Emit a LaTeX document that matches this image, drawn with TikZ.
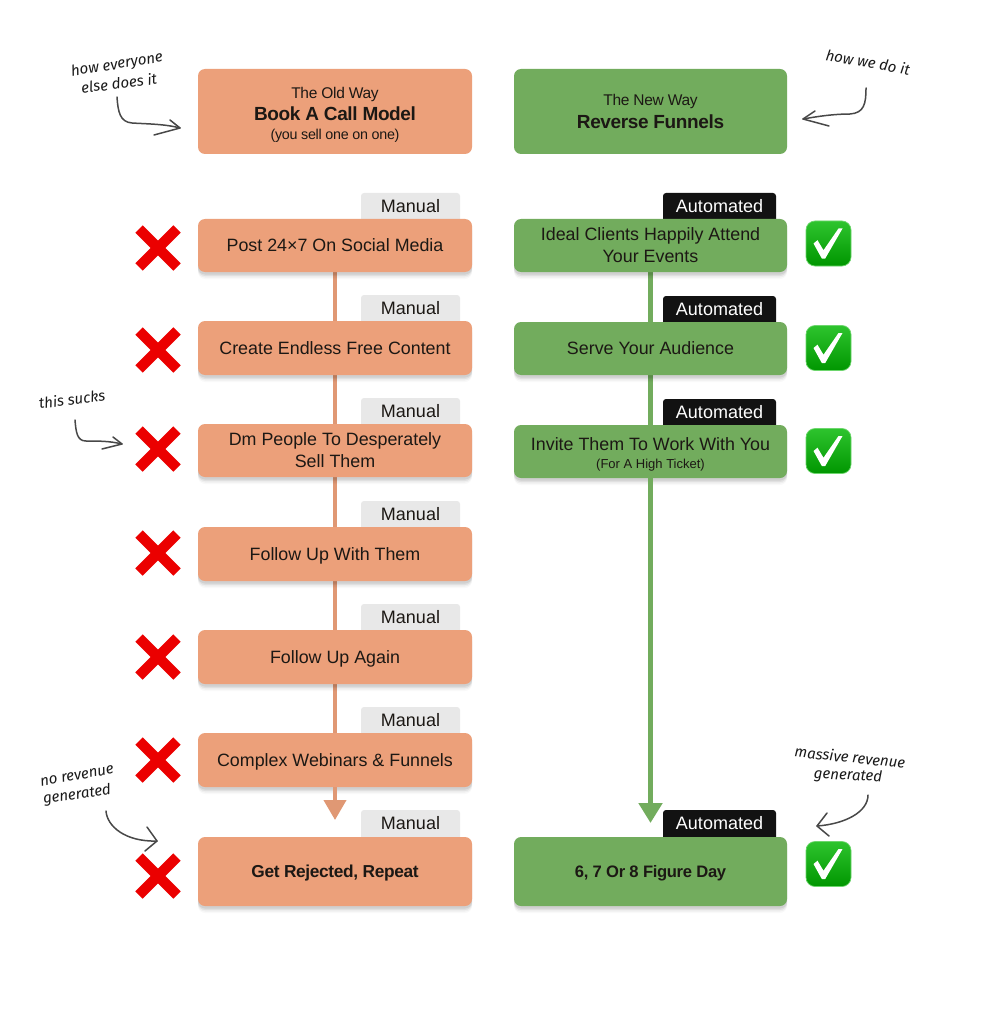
\documentclass[tikz,border=0pt]{standalone}
\usepackage{fontspec}
\setmainfont{Liberation Sans}
\newfontfamily\tight[LetterSpace=-2.0]{Liberation Sans}
\newfontfamily\hand{Fira Sans}
\usetikzlibrary{arrows.meta,calc}
\pgfdeclarelayer{bg}
\pgfsetlayers{bg,main}
\definecolor{oldc}{RGB}{236,160,122}
\definecolor{newc}{RGB}{114,172,93}
\definecolor{ink}{RGB}{28,24,20}
\definecolor{scribble}{RGB}{72,72,72}
\definecolor{ticktop}{RGB}{46,196,46}
\definecolor{tickbot}{RGB}{0,150,0}
\newcommand{\dn}[1]{\raisebox{-6.3pt}[5pt][5pt]{#1}}
\tikzset{
  softshadow/.style={
    preaction={fill=black,opacity=.025,transform canvas={yshift=-7pt}},
    preaction={fill=black,opacity=.04,transform canvas={yshift=-5.5pt}},
    preaction={fill=black,opacity=.06,transform canvas={yshift=-4pt}},
    preaction={fill=black,opacity=.07,transform canvas={yshift=-2.5pt}}},
  flatbox/.style={rounded corners=7pt,inner sep=0pt,minimum width=274pt,text=ink,align=center},
  oldbox/.style={flatbox,fill=oldc},
  newbox/.style={flatbox,fill=newc,minimum width=273pt},
  oldstep/.style={oldbox,softshadow},
  newstep/.style={newbox,softshadow},
  steptext/.style={font=\fontsize{17.85}{21.8}\selectfont},
  heavytext/.style={font=\tight\fontsize{17.3}{21}\selectfont\bfseries},
  tagbase/.style={rounded corners=3pt,inner sep=0pt,minimum height=33pt,font=\fontsize{18}{20}\selectfont},
  manualtag/.style={tagbase,fill=black!9,text=ink,minimum width=99pt},
  autotag/.style={tagbase,fill=black!93,text=white,minimum width=113pt},
  oldline/.style={draw=oldc!95!black,line width=4pt},
  newline/.style={draw=newc,line width=5pt},
  handnote/.style={font=\hand\itshape\fontsize{15}{18}\selectfont,text=black!90,inner sep=0pt},
  scrib/.style={draw=scribble,line width=1.5pt,line cap=round,line join=round},
  crossmark/.style={inner sep=0pt,minimum size=45pt},
  tickmark/.style={inner sep=0pt,minimum size=45pt,rounded corners=9pt,draw=ticktop!70!white,line width=.7pt,
     top color=ticktop,bottom color=tickbot},
}
\newcommand{\crossat}[3]{%
  \node[crossmark] (#1) at (#2,#3) {};
  \draw[line width=10.5pt,draw=red!92!black] (#2-19,#3-19) -- (#2+19,#3+19);
  \draw[line width=10.5pt,draw=red!92!black] (#2-19,#3+19) -- (#2+19,#3-19);
}
\newcommand{\tickat}[3]{%
  \node[tickmark] (#1) at (#2,#3) {};
  \fill[white,shift={(#2,#3)}] (-15,0) -- (-11,3.3) -- (-5,-6.7) -- (10,15) -- (14,15) -- (-3.3,-15) -- (-6.7,-15) -- cycle;
}
\begin{document}
\begin{tikzpicture}[x=1pt,y=1pt]
\useasboundingbox (0,0) rectangle (987,-1024);
\begin{pgfonlayer}{bg}
\fill[white] (0,0) rectangle (987,-1024);
\end{pgfonlayer}

% tags sit behind the boxes
\foreach \n/\yy in {1/209.5,2/311.5,3/414.5,4/517.5,5/620.5,6/723.5,7/826.5}{
  \node[manualtag] (m\n) at (410.5,-\yy) {\raisebox{6.5pt}{Manual}};
}
\foreach \n/\yy in {1/209.5,2/312.5,3/415.5,7/826.5}{
  \node[autotag] (a\n) at (719.5,-\yy) {\raisebox{6.5pt}{Automated}};
}

% headers
\node[oldbox,minimum height=85pt] (oldhead) at (335,-111.5) {%
  {\rule{0pt}{17pt}\tight\fontsize{15.5}{18}\selectfont The Old Way}\\[4pt]
  {\tight\fontsize{19}{22}\selectfont\bfseries Book A Call Model}\\[7pt]
  {\tight\fontsize{14.3}{18}\selectfont (you sell one on one)}};
\node[newbox,minimum height=85pt] (newhead) at (650.5,-111.5) {%
  {\tight\fontsize{15.5}{18}\selectfont The New Way}\\[5pt]
  {\tight\fontsize{19}{22}\selectfont\bfseries Reverse Funnels}};

% old way
\node[oldstep,steptext,minimum height=53pt] (o1) at (335,-245.5) {\dn{Post 24×7 On Social Media}};
\node[oldstep,steptext,minimum height=54pt] (o2) at (335,-348) {\dn{Create Endless Free Content}};
\node[oldstep,steptext,minimum height=53pt] (o3) at (335,-450.5) {Dm People To Desperately\\Sell Them};
\node[oldstep,steptext,minimum height=54pt] (o4) at (335,-554) {\dn{Follow Up With Them}};
\node[oldstep,steptext,minimum height=54pt] (o5) at (335,-657) {\dn{Follow Up Again}};
\node[oldstep,steptext,minimum height=54pt] (o6) at (335,-760) {\dn{Complex Webinars \& Funnels}};
\node[oldstep,heavytext,minimum height=69pt] (o7) at (335,-871.5) {\dn{Get Rejected, Repeat}};

% new way
\node[newstep,steptext,minimum height=53pt] (n1) at (650.5,-245.5) {Ideal Clients Happily Attend\\Your Events};
\node[newstep,steptext,minimum height=53pt] (n2) at (650.5,-348.5) {\dn{Serve Your Audience}};
\node[newstep,minimum height=53pt] (n3) at (650.5,-451.5) {{\rule{0pt}{18pt}\fontsize{17.85}{20}\selectfont Invite Them To Work With You}\\[6pt]{\fontsize{13}{15}\selectfont (For A High Ticket)}};
\node[newstep,heavytext,minimum height=69pt,font=\tight\fontsize{16.6}{21}\selectfont\bfseries] (n7) at (650.5,-871.5) {\dn{6, 7 Or 8 Figure Day}};

\coordinate (oldtip) at (335,-820);
\coordinate (newtip) at (650.5,-823);

% connectors
\begin{pgfonlayer}{bg}
\draw[oldline] (o1) -- (o2);
\draw[oldline] (o2) -- (o3);
\draw[oldline] (o3) -- (o4);
\draw[oldline] (o4) -- (o5);
\draw[oldline] (o5) -- (o6);
\draw[newline] (n1) -- (n2);
\draw[newline] (n2) -- (n3);
\end{pgfonlayer}
\draw[oldline,-{Triangle[width=22pt,length=20pt]}] (o6.south) -- (oldtip);
\draw[newline,-{Triangle[width=23pt,length=20pt]}] (n3.south) -- (newtip);

% marks
\crossat{x1}{158}{-248}
\crossat{x2}{158}{-350}
\crossat{x3}{158}{-449}
\crossat{x4}{158}{-553}
\crossat{x5}{158}{-657}
\crossat{x6}{158}{-760}
\crossat{x7}{158}{-876}
\tickat{c1}{828.5}{-243.5}
\tickat{c2}{828.5}{-348}
\tickat{c3}{828.5}{-451}
\tickat{c7}{828.5}{-864}

% hand notes
\node[handnote,rotate=9] (note1a) at (117,-65) {how everyone};
\node[handnote,rotate=7] (note1b) at (119,-83) {else does it};
\node[handnote,rotate=-10] (note2) at (868,-62) {how we do it};
\node[handnote,rotate=7] (note3) at (72,-399) {this sucks};
\node[handnote,rotate=10] (note4a) at (77,-776) {no revenue};
\node[handnote,rotate=8] (note4b) at (77,-795) {generated};
\node[handnote,rotate=-6] (note5a) at (850,-757) {massive revenue};
\node[handnote,rotate=-3] (note5b) at (848,-776) {generated};

% hand arrows
\draw[scrib] (117,-97) .. controls (118,-112) and (120,-122) .. (132,-123) .. controls (148,-124) and (165,-124) .. (180,-128);
\draw[scrib] (170,-120) -- (180,-128) -- (154,-135);
\draw[scrib] (866,-88) .. controls (866,-104) and (864,-113) .. (850,-114) .. controls (835,-114) and (820,-116) .. (803,-119);
\draw[scrib] (815,-111) -- (803,-119) -- (829,-126);
\draw[scrib] (75,-420) .. controls (76,-432) and (77,-441) .. (86,-441) .. controls (98,-441) and (110,-441) .. (122,-444);
\draw[scrib] (113,-437) -- (122,-444) -- (102,-449);
\draw[scrib] (106,-811) .. controls (107,-826) and (125,-842) .. (157,-841);
\draw[scrib] (147,-827) -- (157,-841) -- (145,-851);
\draw[scrib] (868,-795) .. controls (868,-812) and (845,-824) .. (817,-826);
\draw[scrib] (827,-813) -- (817,-826) -- (829,-836);
\end{tikzpicture}
\end{document}
